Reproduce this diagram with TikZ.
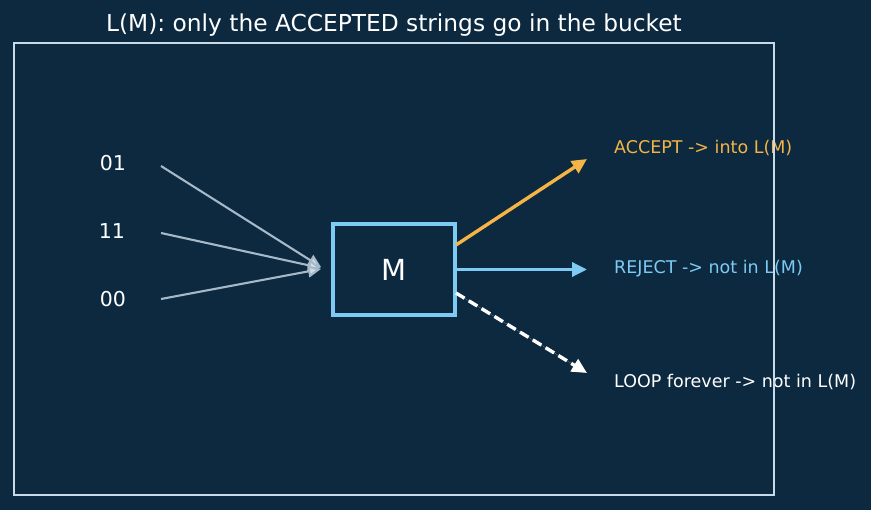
\documentclass[tikz,border=0pt]{standalone}
\usepackage{fontspec}
\setmainfont{DejaVu Sans}
\usetikzlibrary{arrows.meta}
\definecolor{bg}{RGB}{12,41,64}
\definecolor{framec}{RGB}{200,218,232}
\definecolor{boxc}{RGB}{125,203,245}
\definecolor{acc}{RGB}{245,180,70}
\definecolor{inc}{RGB}{165,185,200}
\tikzset{
  inlabel/.style={text=white,font=\fontsize{20.5}{24}\selectfont,anchor=center,inner sep=0},
  outlabel/.style={font=\fontsize{17.5}{20}\selectfont,anchor=west,inner sep=0},
  inarrow/.style={draw=inc,line width=2.1pt,-{Triangle[length=13pt,width=12pt,fill=inc!50!white]}},
  outarrow/.style={line width=3.4pt,-{Triangle[length=15pt,width=14pt]}},
}
\begin{document}
\begin{tikzpicture}[x=1pt,y=-1pt]
\fill[bg] (0,0) rectangle (871,510);
\useasboundingbox (0,0) rectangle (871,510);
\node[text=white,font=\fontsize{23.3}{27}\selectfont,inner sep=0] (title) at (394,25) {L(M): only the ACCEPTED strings go in the bucket};
\node[inlabel] (s01) at (113,163) {01};
\node[inlabel] (s11) at (112,231) {11};
\node[inlabel] (s00) at (113,299) {00};
\coordinate (a01) at (161,166);
\coordinate (a11) at (161,233);
\coordinate (a00) at (161,299);
\coordinate (tip1) at (321,267);
\coordinate (tip2) at (321,268);
\coordinate (tip3) at (321,269);
\node[draw=boxc,line width=3.6pt,minimum width=122pt,minimum height=91pt,text=white,font=\fontsize{29}{34}\selectfont] (M) at (394,269.5) {M};
\draw[inarrow] (a01) -- (tip1);
\draw[inarrow] (a11) -- (tip2);
\draw[inarrow] (a00) -- (tip3);
\coordinate (accS) at (456,245);
\coordinate (accE) at (587,159);
\coordinate (rejS) at (457,269.5);
\coordinate (rejE) at (587,269.5);
\coordinate (loopS) at (456,293);
\coordinate (loopE) at (587,373);
\draw[outarrow,draw=acc,fill=acc] (accS) -- (accE);
\draw[outarrow,draw=boxc,fill=boxc] (rejS) -- (rejE);
\draw[outarrow,draw=white,fill=white,dash pattern=on 10pt off 5pt] (loopS) -- (loopE);
\node[outlabel,text=acc] (lacc) at (614,148) {ACCEPT -> into L(M)};
\node[outlabel,text=boxc] (lrej) at (614,269) {REJECT -> not in L(M)};
\node[outlabel,text=white] (lloop) at (614,382) {LOOP forever -> not in L(M)};
\draw[framec,line width=2.4pt] (14,43) rectangle (774,495);
\end{tikzpicture}
\end{document}
